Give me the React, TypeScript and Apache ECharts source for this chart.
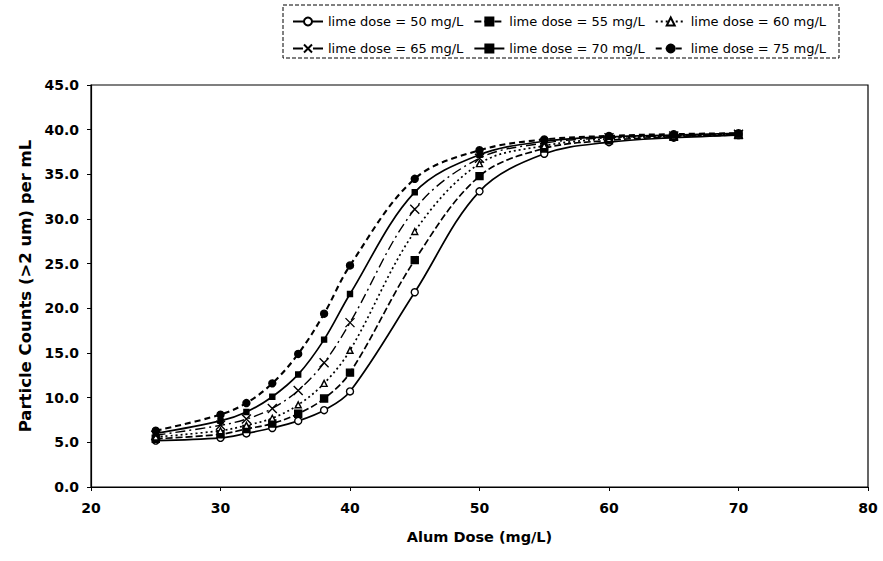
import React, { useEffect, useRef } from "react";
import * as echarts from "echarts";

const alumDose = [25, 30, 32, 34, 36, 38, 40, 45, 50, 55, 60, 65, 70];
const lime50 = [5.2, 5.5, 6.0, 6.6, 7.4, 8.6, 10.7, 21.8, 33.1, 37.3, 38.6, 39.1, 39.4];
const lime55 = [5.4, 5.9, 6.5, 7.1, 8.2, 9.9, 12.8, 25.4, 34.8, 37.9, 38.8, 39.2, 39.4];
const lime60 = [5.6, 6.3, 6.9, 7.7, 9.2, 11.6, 15.3, 28.6, 36.2, 38.2, 39.0, 39.3, 39.5];
const lime65 = [5.8, 6.9, 7.6, 8.8, 10.8, 13.9, 18.4, 31.1, 36.8, 38.5, 39.1, 39.3, 39.5];
const lime70 = [6.0, 7.4, 8.4, 10.1, 12.6, 16.5, 21.6, 33.0, 37.2, 38.7, 39.2, 39.4, 39.6];
const lime75 = [6.3, 8.1, 9.4, 11.6, 14.9, 19.4, 24.8, 34.5, 37.7, 38.9, 39.3, 39.5, 39.6];

const seriesNames = [
  "lime dose = 50 mg/L",
  "lime dose = 55 mg/L",
  "lime dose = 60 mg/L",
  "lime dose = 65 mg/L",
  "lime dose = 70 mg/L",
  "lime dose = 75 mg/L",
];

const FONT = "DejaVu Sans, Verdana, sans-serif";

export default function App() {
  const ref = useRef<HTMLDivElement>(null);
  useEffect(() => {
    if (!ref.current) return;
    const chart = echarts.init(ref.current, undefined, { renderer: "svg" });
    const values = [lime50, lime55, lime60, lime65, lime70, lime75];
    const styles = [
      { symbol: "circle", size: 7, fill: "#fff", line: "solid", width: 1.7 },
      { symbol: "rect", size: 7, fill: "#000", line: [7, 3], width: 1.7 },
      { symbol: "triangle", size: 6, fill: "#fff", line: [2, 3], width: 1.7 },
      { symbol: "path://M0,0L10,10M10,0L0,10", size: 9, fill: "#000", line: [10, 4, 2, 4], width: 1.4 },
      { symbol: "rect", size: 5, fill: "#000", line: "solid", width: 1.7 },
      { symbol: "circle", size: 7, fill: "#000", line: [6, 4], width: 2.1 },
    ];
    const series = values.map((vals, i) => ({
      name: seriesNames[i],
      type: "line",
      smooth: 0.35,
      data: alumDose.map((x, j) => [x, vals[j]]),
      symbol: styles[i].symbol,
      symbolSize: styles[i].size,
      showSymbol: true,
      lineStyle: { color: "#000", width: styles[i].width, type: styles[i].line },
      itemStyle: { color: styles[i].fill, borderColor: "#000", borderWidth: 1.4 },
      z: 2 + i,
    }));
    const legendText = { fontSize: 13, color: "#000", fontFamily: FONT };
    chart.setOption({
      animation: false,
      backgroundColor: "#fff",
      textStyle: { fontFamily: FONT },
      grid: {
        left: 91,
        right: 15,
        top: 85,
        bottom: 74,
        show: true,
        borderColor: "#000",
        borderWidth: 1.2,
      },
      graphic: [
        {
          type: "rect",
          shape: { x: 283, y: 5, width: 556, height: 53 },
          style: { fill: "none", stroke: "#000", lineWidth: 1, lineDash: [4, 2] },
          z: 0,
        },
      ],
      legend: [
        {
          data: seriesNames.slice(0, 3),
          left: 287,
          top: 10,
          itemWidth: 30,
          itemHeight: 10,
          itemGap: 10,
          textStyle: legendText,
        },
        {
          data: seriesNames.slice(3, 6),
          left: 287,
          top: 37,
          itemWidth: 30,
          itemHeight: 10,
          itemGap: 10,
          textStyle: legendText,
        },
      ],
      xAxis: {
        type: "value",
        min: 20,
        max: 80,
        interval: 10,
        name: "Alum Dose (mg/L)",
        nameLocation: "middle",
        nameGap: 42,
        nameTextStyle: { fontSize: 14.5, fontWeight: "bold", color: "#000", fontFamily: FONT },
        axisLine: { lineStyle: { color: "#000", width: 1.2 } },
        axisTick: { show: true, length: 4, lineStyle: { color: "#000" } },
        axisLabel: { fontSize: 14, fontWeight: "bold", color: "#000", margin: 14, fontFamily: FONT },
        splitLine: { show: false },
      },
      yAxis: {
        type: "value",
        min: 0,
        max: 45,
        interval: 5,
        name: "Particle Counts (>2 um) per mL",
        nameLocation: "middle",
        nameGap: 52,
        nameTextStyle: { fontSize: 16.5, fontWeight: "bold", color: "#000", fontFamily: FONT },
        axisLine: { show: true, lineStyle: { color: "#000", width: 1.2 } },
        axisTick: { show: true, length: 4, lineStyle: { color: "#000" } },
        axisLabel: {
          fontSize: 14,
          fontWeight: "bold",
          color: "#000",
          margin: 12,
          fontFamily: FONT,
          formatter: (v: number) => v.toFixed(1),
        },
        splitLine: { show: false },
      },
      series,
    });
    return () => chart.dispose();
  }, []);
  return <div ref={ref} style={{ width: 883, height: 561, position: "absolute", left: 0, top: 0 }} />;
}
